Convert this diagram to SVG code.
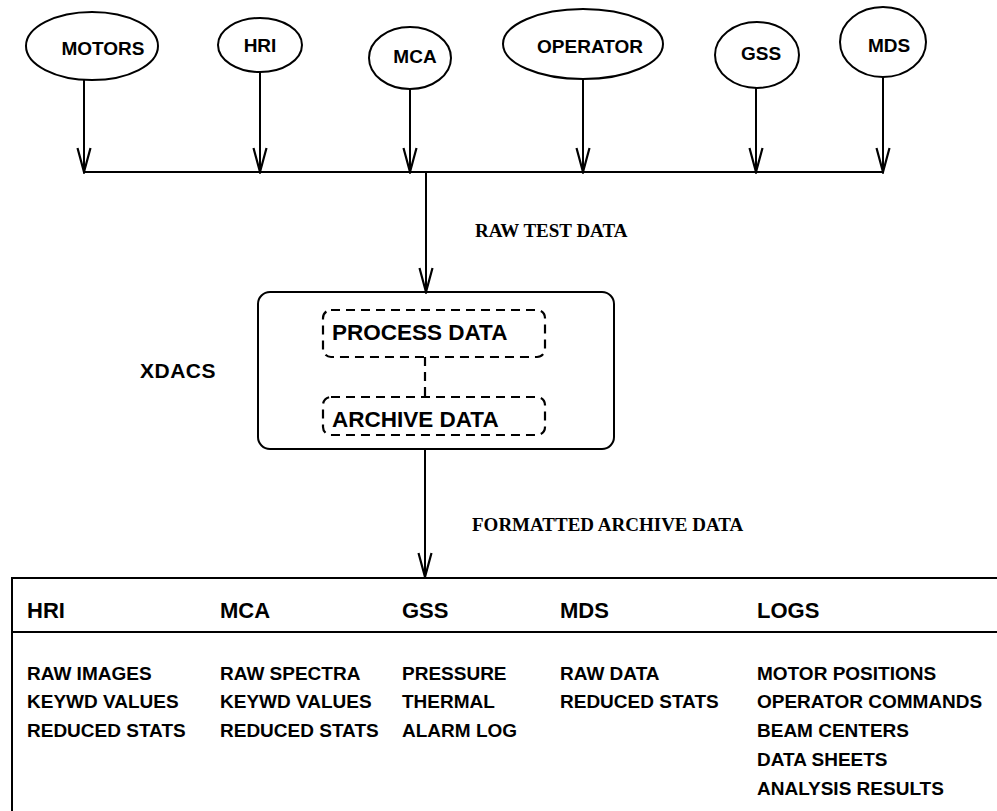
<svg xmlns="http://www.w3.org/2000/svg" width="997" height="811" viewBox="0 0 997 811">
<style>
.shape{fill:none;stroke:#000;stroke-width:2}
.dash{fill:none;stroke:#000;stroke-width:2.2;stroke-dasharray:9 6}
.con{fill:none;stroke:#000;stroke-width:2}
.lbl{font-family:"Liberation Sans",Arial,sans-serif;font-weight:bold;fill:#000}
.el{font-size:19px;text-anchor:middle}
.hd{font-size:22px}
.bd{font-size:19px}
.ser{font-family:"Liberation Serif","Times New Roman",serif;font-weight:bold;font-size:19px;fill:#000}
</style>
<defs>
<marker id="arr" markerUnits="userSpaceOnUse" viewBox="-26 -8 28 16" markerWidth="28" markerHeight="16" refX="0" refY="0" orient="auto">
<path d="M-24,-6.5 L0,0 L-24,6.5" fill="none" stroke="#000" stroke-width="2.2"/>
</marker>
</defs>
<rect width="997" height="811" fill="#fff"/>

<g id="motors"><ellipse class="shape" cx="92" cy="46" rx="66" ry="34"/><text class="lbl el" x="103" y="55">MOTORS</text></g>
<g id="hri"><ellipse class="shape" cx="260" cy="45" rx="42" ry="27"/><text class="lbl el" x="260" y="52">HRI</text></g>
<g id="mca"><ellipse class="shape" cx="410" cy="58" rx="41" ry="31"/><text class="lbl el" x="415" y="63">MCA</text></g>
<g id="operator"><ellipse class="shape" cx="583" cy="44" rx="80" ry="35"/><text class="lbl el" x="590" y="53">OPERATOR</text></g>
<g id="gss"><ellipse class="shape" cx="757" cy="55" rx="42" ry="33"/><text class="lbl el" x="761" y="60">GSS</text></g>
<g id="mds"><ellipse class="shape" cx="883" cy="42" rx="43" ry="35"/><text class="lbl el" x="889" y="52">MDS</text></g>

<g id="connectors">
<line class="con" x1="84" y1="80" x2="84" y2="172" marker-end="url(#arr)"/>
<line class="con" x1="260" y1="72" x2="260" y2="172" marker-end="url(#arr)"/>
<line class="con" x1="410" y1="89" x2="410" y2="172" marker-end="url(#arr)"/>
<line class="con" x1="583" y1="79" x2="583" y2="172" marker-end="url(#arr)"/>
<line class="con" x1="756" y1="88" x2="756" y2="172" marker-end="url(#arr)"/>
<line class="con" x1="883" y1="77" x2="883" y2="172" marker-end="url(#arr)"/>
<line class="con" x1="83" y1="172" x2="884" y2="172"/>
<line class="con" x1="426" y1="172" x2="426" y2="292" marker-end="url(#arr)"/>
<line class="dash" x1="425" y1="357" x2="425" y2="397"/>
<line class="con" x1="425" y1="449" x2="425" y2="577" marker-end="url(#arr)"/>
<text class="ser" x="475" y="237">RAW TEST DATA</text>
<text class="ser" x="472" y="531">FORMATTED ARCHIVE DATA</text>
</g>

<g id="xdacs">
<rect class="shape" x="258" y="292" width="356" height="157" rx="12"/>
<text class="lbl" x="140" y="378" style="font-size:21px;letter-spacing:0.5px">XDACS</text>
</g>
<g id="process-data">
<rect class="dash" x="323" y="310" width="222" height="47" rx="8"/>
<text class="lbl" x="332" y="340" style="font-size:22.5px">PROCESS DATA</text>
</g>
<g id="archive-data">
<rect class="dash" x="323" y="397" width="222" height="38" rx="8"/>
<text class="lbl" x="332" y="427" style="font-size:22.5px">ARCHIVE DATA</text>
</g>

<g id="archive-table">
<path class="shape" d="M997,578 H12 V811 M12,632 H997"/>
<text class="lbl hd" x="27" y="618">HRI</text>
<text class="lbl hd" x="220" y="618">MCA</text>
<text class="lbl hd" x="402" y="618">GSS</text>
<text class="lbl hd" x="560" y="618">MDS</text>
<text class="lbl hd" x="757" y="618">LOGS</text>

<text class="lbl bd" x="27" y="680">RAW IMAGES</text>
<text class="lbl bd" x="27" y="708">KEYWD VALUES</text>
<text class="lbl bd" x="27" y="737">REDUCED STATS</text>

<text class="lbl bd" x="220" y="680">RAW SPECTRA</text>
<text class="lbl bd" x="220" y="708">KEYWD VALUES</text>
<text class="lbl bd" x="220" y="737">REDUCED STATS</text>

<text class="lbl bd" x="402" y="680">PRESSURE</text>
<text class="lbl bd" x="402" y="708">THERMAL</text>
<text class="lbl bd" x="402" y="737">ALARM LOG</text>

<text class="lbl bd" x="560" y="680">RAW DATA</text>
<text class="lbl bd" x="560" y="708">REDUCED STATS</text>

<text class="lbl bd" x="757" y="680">MOTOR POSITIONS</text>
<text class="lbl bd" x="757" y="708">OPERATOR COMMANDS</text>
<text class="lbl bd" x="757" y="737">BEAM CENTERS</text>
<text class="lbl bd" x="757" y="766">DATA SHEETS</text>
<text class="lbl bd" x="757" y="795">ANALYSIS RESULTS</text>
</g>
</svg>
